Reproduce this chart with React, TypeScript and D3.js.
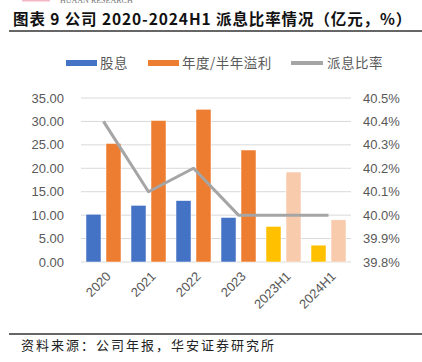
import React from "react";
import * as d3 from "d3";

const categories = ["2020", "2021", "2022", "2023", "2023H1", "2024H1"];
const dividends = [10.2, 12.1, 13.1, 9.5, 7.6, 3.6];
const profits = [25.3, 30.2, 32.6, 23.9, 19.2, 9.0];
const payoutRatio = [40.4, 40.1, 40.2, 40.0, 40.0, 40.0];
const leftTicks = [0, 5, 10, 15, 20, 25, 30, 35];
const rightTicks = [39.8, 39.9, 40.0, 40.1, 40.2, 40.3, 40.4, 40.5];

const W = 422;
const H = 362;
const plot = { left: 81, right: 351, top: 98, bottom: 262 };

const fontCJK = "'Noto Sans CJK SC', 'Liberation Sans', sans-serif";
const fontNum = "'Liberation Sans', Arial, sans-serif";
const textGray = "#595959";

const App = () => {
  const x = d3.scaleBand().domain(categories).range([plot.left, plot.right]);
  const inner = d3
    .scaleBand()
    .domain(["div", "profit"])
    .range([0, x.bandwidth()])
    .paddingInner(0.25)
    .paddingOuter(0.25);
  const y = d3.scaleLinear().domain([0, 35]).range([plot.bottom, plot.top]);
  const y2 = d3.scaleLinear().domain([39.8, 40.5]).range([plot.bottom, plot.top]);

  const isHalf = (c) => c.includes("H1");

  const line = d3
    .line()
    .x((d, i) => x(categories[i]) + x.bandwidth() / 2)
    .y((d) => y2(d));

  return (
    <svg
      width={W}
      height={H}
      style={{ position: "absolute", left: 0, top: 0, background: "#fff" }}
    >
      {/* header logo remnants */}
      <rect x={22} y={0} width={28} height={1.5} fill="#f4b8c4" />
      <text x={60} y={3} fontSize={8} fill="#777" fontFamily="'Liberation Serif', serif">
        HUAAN RESEARCH
      </text>

      <text
        x={13}
        y={25}
        fontSize={15.5}
        fontWeight="bold"
        fill="#111"
        letterSpacing={0.9}
        fontFamily={fontCJK}
      >
        图表 9 公司 2020-2024H1 派息比率情况（亿元，%）
      </text>
      <line x1={9} x2={W} y1={31} y2={31} stroke="#333" strokeWidth={1.5} />

      {/* legend */}
      <g fontFamily={fontCJK} fontSize={13.5} fill={textGray} letterSpacing={0.5}>
        <rect x={66} y={60} width={31} height={6} fill="#4472C4" />
        <text x={100} y={68}>股息</text>
        <rect x={148} y={60} width={31} height={6} fill="#ED7D31" />
        <text x={182} y={68}>年度/半年溢利</text>
        <line x1={291} x2={323} y1={63} y2={63} stroke="#A5A5A5" strokeWidth={4} />
        <text x={327} y={68}>派息比率</text>
      </g>

      {/* gridlines */}
      {leftTicks.map((t) => (
        <line
          key={t}
          x1={plot.left}
          x2={plot.right}
          y1={y(t)}
          y2={y(t)}
          stroke="#D9D9D9"
          strokeWidth={1}
        />
      ))}

      {/* axes labels */}
      <g fontFamily={fontNum} fontSize={13} fill={textGray}>
        {leftTicks.map((t) => (
          <text key={t} x={64} y={y(t)} dy="0.35em" textAnchor="end">
            {t.toFixed(2)}
          </text>
        ))}
        {rightTicks.map((t) => (
          <text key={t} x={363} y={y2(t)} dy="0.35em">
            {t.toFixed(1)}%
          </text>
        ))}
      </g>

      {/* bars */}
      {categories.map((c, i) => (
        <g key={c}>
          <rect
            x={x(c) + inner("div")}
            y={y(dividends[i])}
            width={inner.bandwidth()}
            height={y(0) - y(dividends[i])}
            fill={isHalf(c) ? "#FFC000" : "#4472C4"}
            stroke="#fff"
            strokeWidth={0.5}
          />
          <rect
            x={x(c) + inner("profit")}
            y={y(profits[i])}
            width={inner.bandwidth()}
            height={y(0) - y(profits[i])}
            fill={isHalf(c) ? "#F8CBAD" : "#ED7D31"}
            stroke="#fff"
            strokeWidth={0.5}
          />
        </g>
      ))}

      {/* payout ratio line */}
      <path
        d={line(payoutRatio)}
        fill="none"
        stroke="#A5A5A5"
        strokeWidth={3}
        strokeLinejoin="round"
      />

      {/* x labels */}
      <g fontFamily={fontNum} fontSize={13} fill={textGray}>
        {categories.map((c) => {
          const cx = x(c) + x.bandwidth() / 2 + 5;
          const cy = plot.bottom + 12;
          return (
            <text
              key={c}
              x={cx}
              y={cy}
              textAnchor="end"
              dy="0.35em"
              transform={`rotate(-45, ${cx}, ${cy})`}
            >
              {c}
            </text>
          );
        })}
      </g>

      <line x1={9} x2={W} y1={334} y2={334} stroke="#333" strokeWidth={1.5} />
      <text x={21} y={350} fontSize={13} fill="#222" letterSpacing={2} fontFamily={fontCJK}>
        资料来源：公司年报，华安证券研究所
      </text>
    </svg>
  );
};

export default App;
